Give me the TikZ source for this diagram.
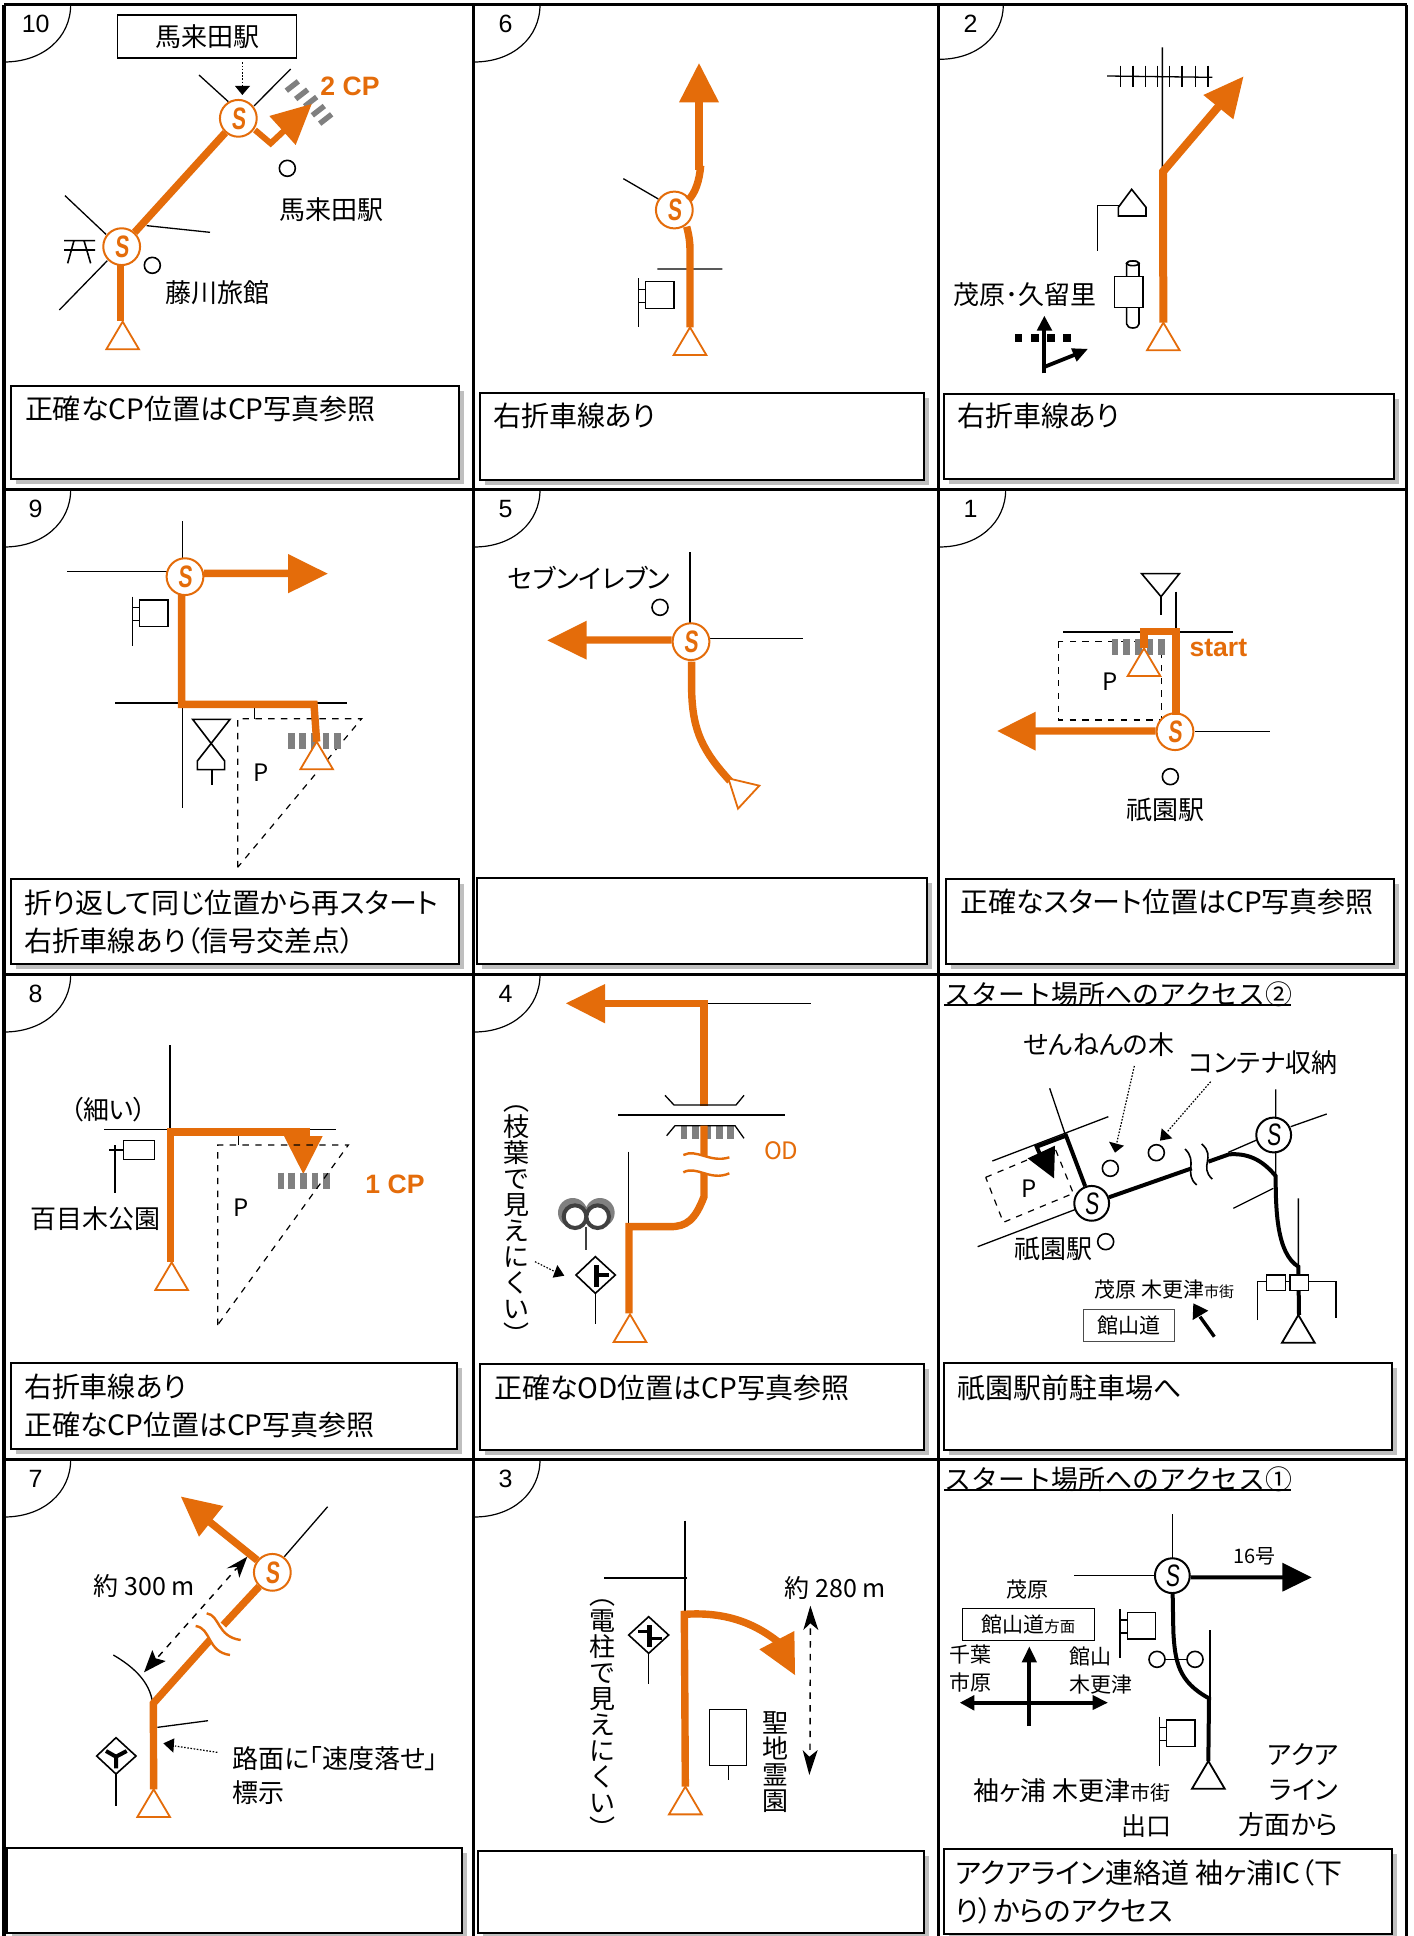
\documentclass[tikz,border=0pt]{standalone}
\usepackage{fontspec}
\setmainfont[RawFeature=+palt]{Noto Sans CJK JP}
\newfontfamily\jpfull{Noto Sans CJK JP}
\newfontfamily\lsans{Liberation Sans}
\newfontfamily\sfam[FakeStretch=0.68,FakeSlant=0.08]{Liberation Sans}
\definecolor{ro}{HTML}{E46C0A}
\definecolor{gb}{HTML}{808080}
\definecolor{shd}{HTML}{BFBFBF}
\newcommand\fs[1]{\fontsize{#1}{#1}\selectfont}
\tikzset{
  tl/.style={line width=0.65pt,black},
  oroute/.style={line width=3.7pt,ro,line join=miter},
  broute/.style={line width=2pt,black,line join=miter},
  gbar/.style={line width=3.3pt,gb},
  dsh/.style={line width=0.6pt,dash pattern=on 3.2pt off 3.2pt},
  dots/.style={line width=0.6pt,dash pattern=on 0.8pt off 0.8pt},
  txt/.style={inner sep=0pt,outer sep=0pt,text=black,font=\fs{13}},
  cmt/.style={txt,anchor=west,font=\fs{14}},
  otxt/.style={txt,text=ro,font=\fs{13.3}\lsans\bfseries},
  snode/.style={circle,draw=ro,fill=white,line width=1pt,minimum size=18.4pt,inner sep=0pt,text=ro,font=\fs{15.5}\sfam\bfseries},
  sblack/.style={circle,draw=black,fill=white,line width=1pt,minimum size=17.4pt,inner sep=0pt,text=black,font=\fs{15.5}\sfam},
  vtxt/.style={txt,align=center,font=\fs{13}\jpfull,baseline},
  lm/.style={tl,line width=0.8pt},
}
\newcommand\lab[5][]{\node[txt,#1] (#2) at (#3,#4) {#5};}
\newcommand\pnum[4]{\draw[line width=0.6pt] (12,#4) .. controls ({0.56*#3+12},#4) and (#3,{0.56*#4+8}) .. (#3,14);
  \node[txt,font=\fs{12.5}\lsans] (#1) at (107,71) {#2};}
\newcommand\tri[4][ro]{\coordinate (#2) at (#3,#4);
  \draw[#1,fill=white,line width=0.9pt,line join=miter] (#2) -- ++(-49,83) -- ++(98,0) -- cycle;}
\newcommand\cbox[4]{\fill[shd] (#1+15,#2+15) rectangle (#3+15,#4+15);
  \draw[line width=0.9pt,fill=white] (#1,#2) rectangle (#3,#4);}
\newcommand\flagsign[2]{\draw[lm] (#1,#2) -- ++(0,147);
  \draw[lm,fill=white] (#1+22,#2+10) rectangle (#1+107,#2+90);
  \draw[lm] (#1,#2+33) -- ++(22,0) (#1,#2+72) -- ++(22,0);}
\newcommand\lmk[2]{\draw[lm] (#1,#2) circle [radius=24];}
\newcommand\vbars[3]{\foreach \b in {#3} \draw[gbar] (\b,#1) -- (\b,#2);}
\begin{document}
\begin{tikzpicture}[x=0.166667pt,y=-0.166667pt]
\useasboundingbox (0,0) rectangle (4239,5808);
\fill[white] (0,0) rectangle (4239,5808);

% ---------- panel 10
\begin{scope}
\pnum{n10}{10}{212}{186}
\node[draw,line width=0.9pt,minimum width=89.5pt,minimum height=21.5pt,inner sep=0pt,font=\fs{13}] (b10) at (621,110) {馬来田駅};
\draw[dots] (727,187) -- (727,260);
\fill (705,258) -- (750,258) -- (727,285) -- cycle;
\draw[tl] (597,225) -- (685,305) (872,207) -- (762,318);
\draw[tl] (195,587) -- (318,703) (178,930) -- (322,782) (440,677) -- (630,697);
\draw[lm] (192,722) -- (285,722) (192,750) -- (285,750) (222,722) -- (203,790) (252,722) -- (272,790);
\foreach \a/\b in {877/258,905/283,932/305,955/332,977/357} \draw[line width=2.7pt,gb] (\a-18,\b+14) -- (\a+18,\b-14);
\node[snode] (s10a) at (365,740) {S};
\node[snode] (s10b) at (715,355) {S};
\tri{t10}{368}{965}
\draw[oroute] (362,962) -- (362,792);
\draw[oroute] (s10a) -- (s10b);
\draw[oroute,line width=3pt] (765,390) -- (812,430) -- (860,385);
\fill[ro] (935,312) -- (808,348) -- (887,435) -- cycle;
\node[otxt] (cp2) at (1050,260) {2 CP};
\lmk{862}{505}
\lab{l10a}{993}{628}{馬来田駅}
\lmk{457}{796}
\lab{l10b}{652}{878}{藤川旅館}
\cbox{32}{1157}{1378}{1437}
\node[cmt] (c10) at (75,1228) {正確なCP位置はCP写真参照};
\end{scope}

% ---------- panel 6
\begin{scope}[shift={(1410,0)}]
\pnum{n6}{6}{210}{186}
\draw[tl] (460,536) -- (565,597) (562,807) -- (757,807);
\flagsign{505}{835}
\tri{t6}{660}{982}
\node[snode] (s6) at (613,630) {S};
\draw[oroute] (650,680) .. controls (658,710) and (660,730) .. (660,750) -- (t6);
\draw[oroute] (692,497) .. controls (688,545) and (675,580) .. (655,600);
\draw[oroute] (687,510) -- (687,300);
\fill[ro] (687,190) -- (627,307) -- (747,307) -- cycle;
\cbox{30}{1180}{1363}{1440}
\node[cmt] (c6) at (70,1248) {右折車線あり};
\end{scope}

% ---------- panel 2
\begin{scope}[shift={(2805,0)}]
\pnum{n2}{2}{205}{178}
\draw[tl] (682,142) -- (682,515) (516,228) -- (832,232);
\foreach \a in {557,594,631,668,704,741,782,819} \draw[tl] (\a,197) -- (\a,260);
\tri{t2}{685}{968}
\draw[oroute,line width=4pt] (t2) -- (684,515) -- (850,320);
\fill[ro] (925,230) -- (805,285) -- (895,358) -- cycle;
\draw[lm] (487,752) -- (487,617) -- (552,617);
\draw[lm,fill=white] (590,568) -- (633,622) -- (633,648) -- (550,648) -- (550,622) -- cycle;
\draw[lm,fill=white] (575,830) -- (575,790) arc[start angle=180,end angle=360,x radius=18.5,y radius=7] -- (612,830);
\draw[lm,fill=white] (593.5,790) ellipse [x radius=18.5,y radius=7];
\draw[lm,fill=white] (575,922) -- (575,972) arc[start angle=180,end angle=0,x radius=18.5,y radius=12] -- (612,922);
\draw[lm,fill=white] (538,830) rectangle (624,922);
\lab{l2}{270}{883}{茂原･久留里}
\draw[line width=1.9pt] (327,1120) -- (327,985);
\fill (328,948) -- (305,992) -- (352,992) -- cycle;
\foreach \a in {250,300,347,396} \fill (\a-11.5,1002) rectangle (\a+11.5,1025);
\draw[line width=1.9pt] (330,1100) -- (425,1062);
\fill (458,1047) -- (408,1045) -- (425,1085) -- cycle;
\cbox{26}{1181}{1376}{1437}
\node[cmt] (c2) at (66,1248) {右折車線あり};
\end{scope}

% ---------- panel 9
\begin{scope}[shift={(0,1455)}]
\pnum{n9}{9}{212}{186}
\draw[tl] (547,108) -- (547,970) (202,260) -- (500,260) (345,654) -- (1040,654) (764,670) -- (764,703);
\flagsign{397}{335}
\draw[lm,fill=white,line join=miter] (578,703) -- (690,703) -- (592,828) -- (592,854) -- (674,854) -- (674,828) -- cycle;
\draw[lm] (636,854) -- (636,900);
\draw[dsh] (713,1147) -- (713,701) -- (1085,701) -- cycle;
\lab[font=\fs{12}]{p9}{782}{862}{P}
\vbars{745}{792}{875,907,942,978,1013}
\node[snode] (s9) at (555,275) {S};
\tri{t9}{950}{770}
\draw[oroute] (s9.10) -- (870,265);
\draw[oroute] (t9) -- (942,658) -- (545,658) -- (545,330);
\fill[ro] (983,266) -- (864,207) -- (864,325) -- cycle;
\cbox{32}{1183}{1378}{1437}
\node[cmt] (c9a) at (72,1255) {折り返して同じ位置から再スタート};
\node[cmt] (c9b) at (72,1367) {右折車線あり（信号交差点）};
\end{scope}

% ---------- panel 5
\begin{scope}[shift={(1410,1455)}]
\pnum{n5}{5}{210}{186}
\lab{l5}{358}{278}{セブンイレブン}
\lmk{570}{367}
\draw[tl] (660,202) -- (660,420) (710,460) -- (1000,460);
\node[snode] (s5) at (663,470) {S};
\draw[oroute] (s5.175) -- (345,465);
\fill[ro] (232,466) -- (350,407) -- (350,524) -- cycle;
\draw[oroute] (665,530) -- (665,620) .. controls (668,740) and (700,800) .. (780,888);
\draw[ro,fill=white,line width=0.9pt,line join=miter] (775,880) -- (868,902) -- (804,971) -- cycle;
\cbox{20}{1180}{1370}{1437}
\end{scope}

% ---------- panel 1
\begin{scope}[shift={(2805,1455)}]
\pnum{n1}{1}{212}{186}
\draw[lm,line join=miter] (620,266) -- (733,266) -- (678,335) -- cycle;
\draw[lm] (678,335) -- (678,390);
\draw[tl] (723,320) -- (723,435) (385,441) -- (895,441) (780,740) -- (1006,740);
\draw[dsh,line width=0.7pt] (370,470) rectangle (680,705);
\vbars{463}{510}{540,574,610,645,680}
\lab[font=\fs{12}]{p1}{525}{590}{P}
\node[snode] (s1) at (720,740) {S};
\tri{t1}{627}{490}
\draw[oroute] (t1) -- (627,440) -- (723,440) -- (723,690);
\draw[oroute] (s1.178) -- (295,738);
\fill[ro] (187,738) -- (302,680) -- (302,797) -- cycle;
\node[otxt] (st1) at (850,490) {start};
\lmk{706}{875}
\lab{l1}{692}{975}{祇園駅}
\cbox{32}{1181}{1376}{1437}
\node[cmt] (c1) at (75,1250) {正確なスタート位置はCP写真参照};
\end{scope}

% ---------- panel 8
\begin{scope}[shift={(0,2910)}]
\pnum{n8}{8}{212}{186}
\draw[tl] (510,225) -- (510,480) (313,479) -- (1007,479) (716,495) -- (716,525);
\draw[lm] (327,540) -- (370,540) (345,525) -- (345,668);
\draw[lm,fill=white] (370,512) rectangle (463,568);
\lab{l8a}{325}{420}{（細い）}
\lab{l8b}{287}{745}{百目木公園}
\tri{t8}{515}{877}
\draw[oroute] (512,875) -- (512,486) -- (918,486) -- (918,505);
\fill[ro] (852,498) -- (968,498) -- (910,612) -- cycle;
\vbars{608}{656}{843,875,910,945,980}
\draw[dsh] (653,1065) -- (653,525) -- (1045,525) -- cycle;
\lab[font=\fs{12}]{p8}{723}{712}{P}
\node[otxt] (cp1) at (1185,643) {1 CP};
\cbox{34}{1180}{1372}{1437}
\node[cmt] (c8a) at (72,1250) {右折車線あり};
\node[cmt] (c8b) at (72,1365) {正確なCP位置はCP写真参照};
\end{scope}

% ---------- panel 4
\begin{scope}[shift={(1410,2910)}]
\pnum{n4}{4}{210}{186}
\draw[tl] (708,100) -- (1022,100) (445,435) -- (945,435) (475,545) -- (475,760);
\draw[oroute] (400,101) -- (702,101) -- (702,408);
\fill[ro] (288,100) -- (405,42) -- (405,160) -- cycle;
\draw[tl] (585,376) -- (612,405) -- (798,405) -- (822,376);
\vbars{468}{508}{642,677,712,748,782}
\draw[tl] (590,497) -- (615,467) -- (795,467) -- (822,505);
\draw[oroute] (702,467) -- (702,680) .. controls (675,750) and (650,770) .. (600,770) -- (477,770) -- (477,1030);
\fill[white] (640,555) .. controls (680,535) and (720,580) .. (778,562) -- (778,610) .. controls (720,635) and (680,585) .. (640,607) -- cycle;
\draw[ro,line width=1.2pt] (640,555) .. controls (680,535) and (720,580) .. (778,562);
\draw[ro,line width=1.2pt] (640,607) .. controls (680,585) and (720,635) .. (778,610);
\node[otxt,font=\fs{12}] (od) at (934,543) {OD};
\fill[gb] (308,728) circle [radius=44] (390,728) circle [radius=44];
\draw[line width=2pt,draw=black!75,fill=white] (315,740) circle [radius=34] (383,740) circle [radius=34];
\draw[line width=1.4pt,black!75] (348,770) -- (348,840);
\draw[lm,fill=white] (376,860) -- (436,915) -- (376,970) -- (318,915) -- cycle;
\draw[line width=2.2pt] (380,885) -- (380,950);
\draw[line width=2pt] (380,915) -- (418,915);
\draw[lm] (376,970) -- (376,1063);
\draw[dots] (195,875) -- (255,905);
\fill (283,917) -- (262,885) -- (248,923) -- cycle;
\node[vtxt] (v4) at (140,765) {︵\\枝\\葉\\で\\見\\え\\に\\く\\い\\︶};
\tri{t4}{480}{1033}
\cbox{30}{1183}{1363}{1440}
\node[cmt] (c4) at (72,1255) {正確なOD位置はCP写真参照};
\end{scope}

% ---------- access 2
\begin{scope}[shift={(2805,2910)}]
\node[txt,anchor=west,font=\fs{13.45}\jpfull] (h2) at (28,72) {スタート場所へのアクセス②};
\draw[line width=1.1pt] (27,105) -- (1067,105);
\lab[font=\fs{13}]{l3a}{492}{225}{せんねんの木}
\lab[font=\fs{13}]{l3b}{985}{278}{コンテナ収納}
\draw[dots] (598,288) -- (545,520);
\fill (540,548) -- (522,515) -- (567,527) -- cycle;
\draw[dots] (827,335) -- (697,485);
\fill (675,512) -- (680,475) -- (712,505) -- cycle;
\lmk{526}{595}
\lmk{664}{548}
\draw[tl] (344,355) -- (393,500) (172,573) -- (520,440) (128,830) -- (430,715);
\draw[tl] (880,547) -- (965,510) (1067,470) -- (1175,432) (1022,358) -- (1022,445) (1022,545) -- (1022,620) (895,715) -- (1015,655) (1090,685) -- (1090,890);
\draw[dsh] (152,622) -- (360,535) -- (415,670) -- (205,757) -- cycle;
\lab[font=\fs{12}]{p3}{283}{655}{P}
\node[sblack] (s3a) at (470,700) {S};
\node[sblack] (s3b) at (1016,495) {S};
\draw[broute] (s3a) -- (393,497) -- (305,530) -- (322,570);
\fill (278,565) -- (360,527) -- (357,625) -- cycle;
\draw[broute] (s3a) -- (770,595);
\draw[broute] (820,575) -- (882,553) .. controls (950,548) and (990,580) .. (1022,618) .. controls (1022,720) and (1025,850) .. (1090,890) -- (1092,1035);
\draw[line width=0.8pt] (750,537) .. controls (790,575) and (745,610) .. (785,645);
\draw[line width=0.8pt] (800,522) .. controls (845,560) and (790,590) .. (832,627);
\draw[lm] (968,1050) -- (968,935) -- (995,935) (1120,935) -- (1203,935) -- (1203,1045) (1052,935) -- (1065,935);
\draw[lm,fill=white] (995,915) rectangle (1052,962);
\draw[lm,fill=white] (1065,915) rectangle (1120,962);
\tri[black]{t3}{1090}{1035}
\lab{l3c}{355}{838}{祇園駅}
\lmk{512}{815}
\lab[font=\fs{10.5}]{l3d}{688}{958}{茂原 木更津{\fs{7.5}市街}}
\node[draw=black!70,line width=0.6pt,minimum width=45.5pt,minimum height=16pt,inner sep=0pt,font=\fs{10.5}] (b3) at (582,1067) {館山道};
\draw[line width=1.7pt] (838,1100) -- (795,1040);
\fill (775,1000) -- (773,1050) -- (820,1022) -- cycle;
\cbox{27}{1180}{1372}{1440}
\node[cmt] (c3) at (68,1252) {祇園駅前駐車場へ};
\end{scope}

% ---------- panel 7
\begin{scope}[shift={(0,4365)}]
\pnum{n7}{7}{212}{186}
\draw[tl] (853,305) -- (983,155) (472,817) -- (624,797);
\draw[tl] (340,600) .. controls (400,635) and (450,680) .. (458,745);
\node[snode] (s7) at (817,352) {S};
\draw[oroute] (s7) -- (622,195);
\fill[ro] (543,125) -- (670,153) -- (597,245) -- cycle;
\tri{t7}{461}{1003}
\draw[oroute] (s7) -- (670,510);
\draw[oroute] (t7) -- (460,745) -- (630,555);
\fill[white] (620,475) .. controls (660,480) and (650,545) .. (722,555) -- (690,600) .. controls (620,590) and (635,520) .. (587,513) -- cycle;
\draw[ro,line width=1.2pt] (620,475) .. controls (660,480) and (650,545) .. (722,555);
\draw[ro,line width=1.2pt] (587,513) .. controls (635,520) and (620,590) .. (690,600);
\draw[dsh,line width=0.7pt] (475,605) -- (710,340);
\fill (742,305) -- (680,340) -- (710,335) -- (718,368) -- cycle;
\fill (432,652) -- (497,618) -- (467,610) -- (457,585) -- cycle;
\lab[font=\fs{12.5}]{l7a}{433}{392}{約 300 m}
\draw[lm,fill=white] (348,848) -- (408,903) -- (348,957) -- (290,903) -- cycle;
\draw[line width=2pt] (348,940) -- (348,905) -- (318,888) (348,905) -- (380,888);
\draw[lm] (348,957) -- (348,1052);
\draw[dots] (652,892) -- (525,873);
\fill (490,865) -- (523,850) -- (520,893) -- cycle;
\node[txt,anchor=west] (l7b) at (697,910) {路面に「速度落せ」};
\node[txt,anchor=west] (l7c) at (697,1013) {標示};
\cbox{22}{1180}{1385}{1435}
\end{scope}

% ---------- panel 3
\begin{scope}[shift={(1410,4365)}]
\pnum{n3}{3}{210}{186}
\draw[tl] (645,197) -- (645,470) (403,369) -- (650,369);
\tri{t3b}{646}{995}
\draw[oroute] (t3b) -- (643,478) .. controls (760,470) and (850,500) .. (930,565);
\fill[ro] (868,583) -- (973,528) -- (975,660) -- cycle;
\draw[lm,fill=white] (536,485) -- (596,540) -- (536,595) -- (476,540) -- cycle;
\draw[line width=2.2pt] (538,510) -- (538,575);
\draw[line width=1.7pt] (505,530) -- (540,530) (540,550) -- (575,550);
\draw[lm] (536,595) -- (536,687);
\node[vtxt] (v3) at (397,793) {︵\\電\\柱\\で\\見\\え\\に\\く\\い\\︶};
\draw[lm,fill=white] (719,764) rectangle (829,932);
\draw[lm] (775,932) -- (775,975);
\node[vtxt] (v3b) at (915,920) {聖\\地\\霊\\園};
\lab[font=\fs{12.5}]{l3e}{1096}{398}{約 280 m}
\draw[dsh,line width=0.7pt] (1021,520) -- (1020,890);
\fill (1021,452) -- (1000,525) -- (1021,505) -- (1045,525) -- cycle;
\fill (1018,960) -- (998,885) -- (1018,905) -- (1043,885) -- cycle;
\cbox{25}{1188}{1363}{1435}
\end{scope}

% ---------- access 1
\begin{scope}[shift={(2805,4365)}]
\node[txt,anchor=west,font=\fs{13.45}\jpfull] (h1) at (28,72) {スタート場所へのアクセス①};
\draw[line width=1.1pt] (27,105) -- (1067,105);
\draw[tl] (712,178) -- (712,310) (418,362) -- (660,362) (825,525) -- (825,725);
\node[sblack] (s1a) at (712,362) {S};
\draw[broute] (s1a.-5) -- (1045,367);
\fill (1130,367) -- (1042,323) -- (1042,410) -- cycle;
\lab[font=\fs{10}]{l1a}{958}{305}{16号}
\flagsign{555}{462}
\flagsign{673}{785}
\lmk{666}{613}
\lmk{780}{613}
\draw[lm] (690,613) -- (756,613);
\tri[black]{t1a}{820}{918}
\draw[broute] (s1a) -- (715,530) .. controls (720,620) and (730,680) .. (822,730) -- (t1a);
\lab[font=\fs{10.5}]{l1b}{277}{405}{茂原}
\node[draw,line width=0.6pt,minimum width=66pt,minimum height=16pt,inner sep=0pt,font=\fs{10.5}] (b1) at (280,508) {館山道{\fs{7.7}方面}};
\draw[line width=1.9pt] (283,813) -- (283,615);
\fill (283,575) -- (260,622) -- (306,622) -- cycle;
\draw[line width=1.9pt] (110,743) -- (480,743);
\fill (75,743) -- (118,720) -- (118,767) -- cycle;
\fill (518,743) -- (473,720) -- (473,765) -- cycle;
\lab[font=\fs{10.5}]{l1c}{105}{600}{千葉}
\lab[font=\fs{10.5}]{l1d}{105}{683}{市原}
\lab[font=\fs{10.5}]{l1e}{465}{605}{館山}
\lab[font=\fs{10.5}]{l1f}{497}{688}{木更津}
\lab{l1g}{411}{1008}{袖ヶ浦 木更津{\fs{10}市街}}
\lab[font=\fs{12.5}]{l1h}{635}{1112}{出口}
\node[txt,anchor=east] (l1i) at (1210,898) {アクア};
\node[txt,anchor=east] (l1j) at (1210,1005) {ライン};
\node[txt,anchor=east] (l1k) at (1210,1108) {方面から};
\cbox{27}{1183}{1372}{1437}
\node[cmt] (c1a) at (62,1255) {アクアライン連絡道 袖ヶ浦IC（下};
\node[cmt] (c1b) at (62,1367) {り）からのアクセス};
\end{scope}

% ---------- frame
\draw[line width=1.7pt] (12,14) -- (4220,14) (12,1469) -- (4220,1469) (12,2924) -- (4220,2924) (12,4379) -- (4220,4379);
\draw[line width=1.7pt] (12,14) -- (12,5808) (1420,14) -- (1420,5808) (2816,14) -- (2816,5808) (4220,14) -- (4220,5808);
\end{tikzpicture}
\end{document}
